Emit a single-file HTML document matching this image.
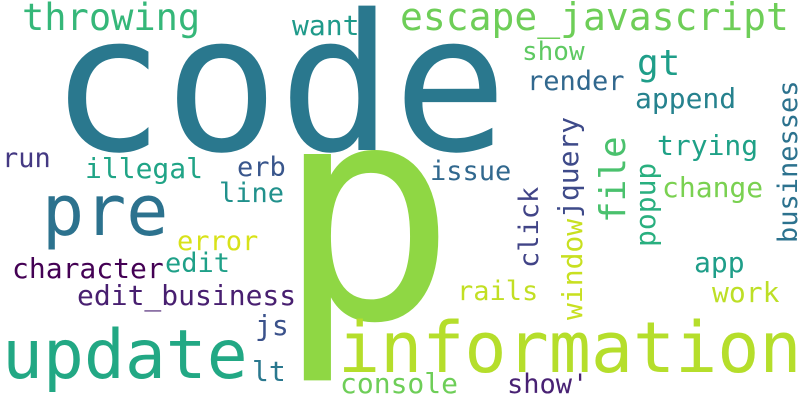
<!DOCTYPE html>
<html><head><meta charset="utf-8"><style>
html,body{margin:0;padding:0;background:#fff;}
svg{display:block;}
text{font-family:"DejaVu Sans Mono","Liberation Mono",monospace;}
</style></head><body>
<svg width="800" height="400" viewBox="0 0 800 400">
<rect width="800" height="400" fill="#fff"/>
<g id="words"></g>
</svg>
<script>
const words = ["code","p","information","update","pre","throwing","escape_javascript","want","gt","show","render","append","trying","change","app","work","issue","erb","line","illegal","run","error","edit","character","edit_business","rails","js","lt","console","show'","businesses","popup","file","jquery","window","click"];
const sizes = [190,300,70,68,70,37,38,28,36,26,27,28,28,28,28,28,27,27,27,28,27,27,27,28,28,27,28,28,28,27,27,28,36,28,28,27];
const xs = [50,276,338,2,42,22,400,292,637,522,527,635,657,662,694,712,430,237,219,85,2,177,165,12,77,457,255,252,340,507,797,655,625,578,582,538];
const ys = [150,318,372,378,235,30,30,35,75,60,90,108,155,197,272,302,180,176,202,178,167,250,272,278,305,300,335,381,393,393,243,247,223,218,320,268];
const rot = [0,0,0,0,0,0,0,0,0,0,0,0,0,0,0,0,0,0,0,0,0,0,0,0,0,0,0,0,0,0,1,1,1,1,1,1];
const colors = ["#2a788e","#8fd744","#b5de2b","#22a884","#2c728e","#35b779","#6ece58","#1f9a8a","#1f9e89","#5ec962","#31688e","#26828e","#1fa187","#7ad151","#1f9e89","#bddf26","#31688e","#39568c","#21918c","#20a486","#443983","#d8e219","#1fa088","#440154","#481f70","#c2df23","#3b528b","#2a788e","#6ece58","#482173","#2c728e","#29af7f","#4ac16d","#3e4a89","#c8e020","#414487"];
const g = document.getElementById('words');
words.forEach((w,i)=>{
  const t = document.createElementNS('http://www.w3.org/2000/svg','text');
  t.setAttribute('x', xs[i]);
  t.setAttribute('y', ys[i]);
  t.setAttribute('font-size', sizes[i]);
  t.setAttribute('fill', colors[i]);
  if (rot[i]) t.setAttribute('transform', 'rotate(-90 '+xs[i]+' '+ys[i]+')');
  
  
  t.textContent = w;
  g.appendChild(t);
});
</script>
</body></html>
